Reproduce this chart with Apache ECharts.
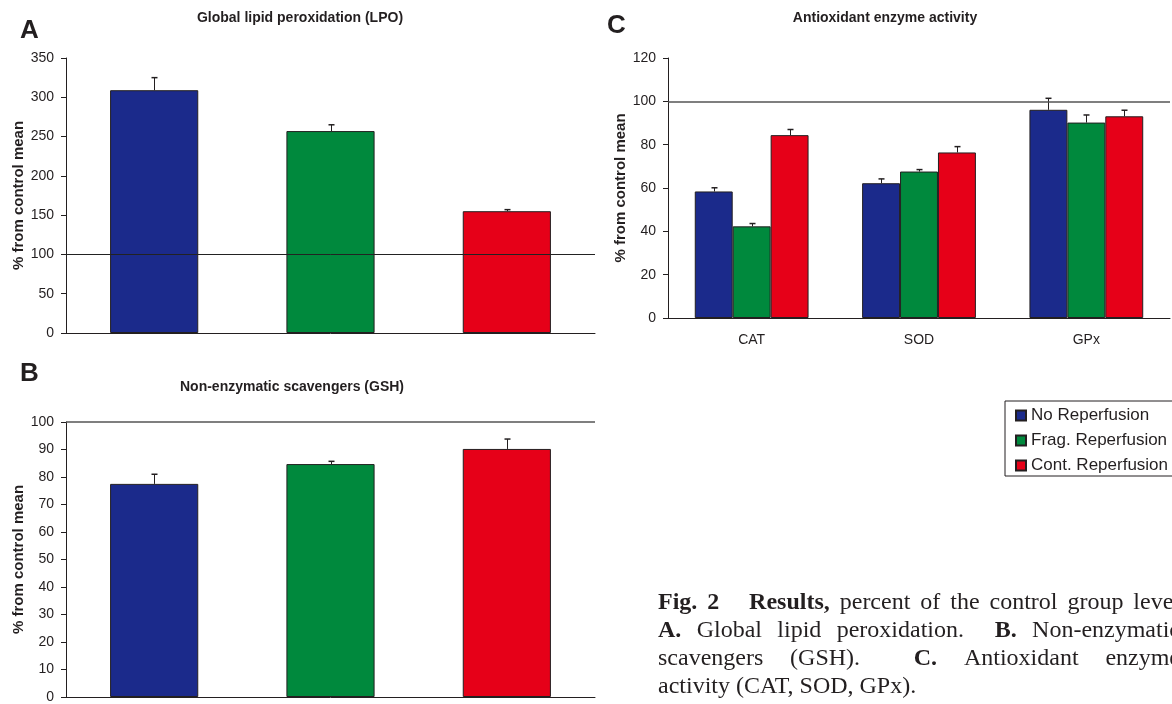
<!DOCTYPE html>
<html><head><meta charset="utf-8">
<script src="https://cdn.jsdelivr.net/npm/echarts@6/dist/echarts.min.js"></script>
<style>html,body{margin:0;padding:0;background:#fff}#c{width:1172px;height:704px}</style>
</head><body><div id="c"></div>
<script>
// ---------- data ----------
const groups = ['No Reperfusion', 'Frag. Reperfusion', 'Cont. Reperfusion'];
const lpoValues = [309, 257, 155];
const lpoErrors = [16, 8, 2];
const gshValues = [77.5, 84.7, 90.2];
const gshErrors = [3.5, 1.0, 3.6];
const enzymes = ['CAT', 'SOD', 'GPx'];
const noRepValues = [58.4, 62.2, 96.1];
const noRepErrors = [1.7, 2.0, 5.3];
const fragRepValues = [42.3, 67.6, 90.2];
const fragRepErrors = [1.3, 0.9, 3.5];
const contRepValues = [84.4, 76.4, 93.1];
const contRepErrors = [2.6, 2.7, 2.8];
const lpoAxis = {min: 0, max: 350, interval: 50};
const gshAxis = {min: 0, max: 100, interval: 10};
const enzAxis = {min: 0, max: 120, interval: 20};
const controlLevel = 100;
const captionLines = [
  "*Fig. *2   *Results, percent of the control group level",
  "*A. Global lipid peroxidation.  *B. Non-enzymatic",
  "scavengers (GSH).  *C. Antioxidant enzyme",
  "activity (CAT, SOD, GPx)."
];

// ---------- style ----------
const ink = '#231f20';
const colors = ['#1b2a8b', '#00893d', '#e60018'];
const sans = '"Liberation Sans", Arial, sans-serif';
const serif = '"Liberation Serif", "Times New Roman", serif';

const chart = echarts.init(document.getElementById('c'));

function errRender(nSeries, idx, gap) {
  return function (params, api) {
    const i = api.value(0), v = api.value(1), e = api.value(2);
    const p0 = api.coord([i, v]);
    const p1 = api.coord([i, v + e]);
    let x = p0[0];
    if (nSeries > 1) {
      const band = api.size([1, 0])[0];
      const bw = band * (1 - gap) / nSeries;
      x += (idx - (nSeries - 1) / 2) * bw;
    }
    x = Math.round(x) + 0.5;
    return {
      type: 'group',
      children: [
        {type: 'line', shape: {x1: x, y1: p0[1], x2: x, y2: p1[1]}, style: {stroke: ink, lineWidth: 1}},
        {type: 'line', shape: {x1: x - 3, y1: p1[1], x2: x + 3, y2: p1[1]}, style: {stroke: ink, lineWidth: 1.5}}
      ]
    };
  };
}
function errData(vals, errs) { return vals.map((v, i) => [i, v, errs[i]]); }

function yAxisCfg(grid, ax) {
  return {
    type: 'value', gridIndex: grid, min: ax.min, max: ax.max, interval: ax.interval,
    name: '% from control mean', nameLocation: 'middle', nameGap: 40,
    nameTextStyle: {fontFamily: sans, fontWeight: 'bold', fontSize: 15, color: ink},
    axisLine: {show: true, lineStyle: {color: ink, width: 1}},
    axisTick: {show: true, length: 5, lineStyle: {color: ink}},
    axisLabel: {color: ink, fontSize: 14, fontFamily: sans, margin: 12},
    splitLine: {show: false}
  };
}
function xAxisCfg(grid, data, showLabel) {
  return {
    type: 'category', gridIndex: grid, data: data,
    axisLine: {lineStyle: {color: ink, width: 1}},
    axisTick: {length: 5, lineStyle: {color: ink}},
    axisLabel: {show: showLabel, color: ink, fontSize: 14, fontFamily: sans, margin: 15}
  };
}
function refLine(color, width) {
  return {silent: true, symbol: 'none', label: {show: false}, animation: false,
    lineStyle: {color: color, width: width, type: 'solid'}, data: [{yAxis: controlLevel}]};
}

const barBorder = {borderColor: ink, borderWidth: 1};
const catGap = 0.32;

const series = [
  {type: 'bar', xAxisIndex: 0, yAxisIndex: 0, barWidth: '50%', itemStyle: barBorder,
    data: lpoValues.map((v, i) => ({value: v, itemStyle: {color: colors[i]}})),
    markLine: refLine('#222', 1), z: 2},
  {type: 'custom', xAxisIndex: 0, yAxisIndex: 0, renderItem: errRender(1, 0, 0),
    data: errData(lpoValues, lpoErrors), encode: {x: 0, y: 1}, z: 3},
  {type: 'bar', xAxisIndex: 1, yAxisIndex: 1, barWidth: '50%', itemStyle: barBorder,
    data: gshValues.map((v, i) => ({value: v, itemStyle: {color: colors[i]}})),
    markLine: refLine('#555', 1.5), z: 2},
  {type: 'custom', xAxisIndex: 1, yAxisIndex: 1, renderItem: errRender(1, 0, 0),
    data: errData(gshValues, gshErrors), encode: {x: 0, y: 1}, z: 3}
];
const cVals = [noRepValues, fragRepValues, contRepValues];
const cErrs = [noRepErrors, fragRepErrors, contRepErrors];
groups.forEach((g, k) => {
  series.push({type: 'bar', name: g, xAxisIndex: 2, yAxisIndex: 2, barGap: '0%',
    barCategoryGap: (catGap * 100) + '%', data: cVals[k],
    itemStyle: {color: colors[k], borderColor: ink, borderWidth: 1},
    markLine: k === 0 ? refLine('#555', 1.5) : undefined, z: 2});
});
groups.forEach((g, k) => {
  series.push({type: 'custom', xAxisIndex: 2, yAxisIndex: 2, renderItem: errRender(3, k, catGap),
    data: errData(cVals[k], cErrs[k]), encode: {x: 0, y: 1}, z: 3});
});

// ---------- caption (justified, word by word) ----------
const capFont = 24, capLeft = 658, capWidth = 522, capY = [603, 631, 659, 687];
const mctx = document.createElement('canvas').getContext('2d');
function fontStr(bold) { return (bold ? 'bold ' : '') + capFont + 'px ' + serif; }
const captionEls = [];
captionLines.forEach((line, li) => {
  const raw = line.split(' ');
  const words = []; let extra = 0;
  raw.forEach(t => {
    if (t === '') { extra++; return; }
    const bold = t[0] === '*';
    const txt = bold ? t.slice(1) : t;
    mctx.font = fontStr(bold);
    words.push({txt, bold, w: mctx.measureText(txt).width, gw: words.length ? 1 + extra : 0});
    extra = 0;
  });
  mctx.font = fontStr(false);
  const sp = mctx.measureText(' ').width;
  const total = words.reduce((s, w) => s + w.w, 0);
  const gsum = words.reduce((s, w) => s + w.gw, 0);
  const last = li === captionLines.length - 1;
  const unit = last ? sp : (capWidth - total) / gsum;
  let x = capLeft;
  words.forEach(w => {
    x += w.gw * unit;
    captionEls.push({type: 'text', x: x, y: capY[li],
      style: {text: w.txt, font: fontStr(w.bold), fill: ink, textVerticalAlign: 'middle'}});
    x += w.w;
  });
});

const tTitle = {fontFamily: sans, fontSize: 14, fontWeight: 'bold', color: ink};
const tPanel = {fontFamily: sans, fontSize: 26, fontWeight: 'bold', color: ink};
const option = {
  animation: false,
  backgroundColor: '#fff',
  textStyle: {fontFamily: sans},
  title: [
    {text: 'A', left: 20, top: 18, padding: 0, textStyle: tPanel},
    {text: 'Global lipid peroxidation (LPO)', left: 300, top: 11, padding: 0, textAlign: 'center', textStyle: tTitle},
    {text: 'B', left: 20, top: 361, padding: 0, textStyle: tPanel},
    {text: 'Non-enzymatic scavengers (GSH)', left: 292, top: 380, padding: 0, textAlign: 'center', textStyle: tTitle},
    {text: 'C', left: 607, top: 13, padding: 0, textStyle: tPanel},
    {text: 'Antioxidant enzyme activity', left: 885, top: 11, padding: 0, textAlign: 'center', textStyle: tTitle}
  ],
  legend: {
    data: groups, orient: 'vertical', left: 1005, top: 401, padding: [5, 12, 1, 10],
    itemWidth: 10, itemHeight: 10, itemGap: 6, icon: 'rect', selectedMode: false,
    borderColor: ink, borderWidth: 1, borderRadius: 0,
    textStyle: {fontFamily: sans, fontSize: 17, color: ink, lineHeight: 19}
  },
  grid: [
    {left: 66, right: 577, top: 58, height: 275},
    {left: 66, right: 577, top: 422, height: 276},
    {left: 668, right: 2, top: 58, height: 260}
  ],
  xAxis: [xAxisCfg(0, groups, false), xAxisCfg(1, groups, false), xAxisCfg(2, enzymes, true)],
  yAxis: [yAxisCfg(0, lpoAxis), yAxisCfg(1, gshAxis), yAxisCfg(2, enzAxis)],
  series: series,
  graphic: captionEls
};
chart.setOption(option);
</script>
</body></html>
